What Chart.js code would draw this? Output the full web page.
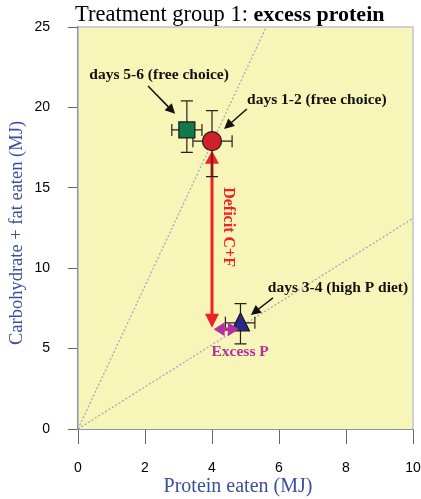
<!DOCTYPE html>
<html>
<head>
<meta charset="utf-8">
<script src="https://cdn.jsdelivr.net/npm/chart.js@4"></script>
<style>
  html, body { margin: 0; padding: 0; background: #ffffff; }
  #wrap { width: 421px; height: 499px; }
</style>
</head>
<body>
<div id="wrap"><canvas id="dietChart" width="421" height="499"></canvas></div>
<script>
// data
var groups = ['days 1-2 (free choice)', 'days 3-4 (high P diet)', 'days 5-6 (free choice)'];
var protein = [4.0, 4.85, 3.25];
var proteinLow = [3.43, 4.4, 2.8];
var proteinHigh = [4.6, 5.28, 3.7];
var carbFat = [17.9, 6.6, 18.6];
var carbFatLow = [15.7, 5.3, 17.2];
var carbFatHigh = [19.8, 7.8, 20.4];
var railSlopes = [1.31, 4.45];
var xTicks = [0, 2, 4, 6, 8, 10];
var yTicks = [0, 5, 10, 15, 20, 25];
var deficitArrow = [[4.0, 17.3], [4.0, 6.3]];
var excessArrow = [[4.05, 6.2], [4.8, 6.2]];

// label placement (data units) and styles
var labelSpots = [
    { text: groups[0], at: [7.13, 20.46], from: [5.04, 19.9], to: [4.36, 18.66] },
    { text: groups[1], at: [7.76, 8.77], from: [5.82, 8.15], to: [5.16, 7.09] },
    { text: groups[2], at: [2.42, 22.0], from: [2.09, 21.33], to: [2.9, 19.6] }
];
var markerStyle = [
    { shape: 'circle', fill: '#d0202c', size: 9.5 },
    { shape: 'triangle', fill: '#2a2a8c', size: 10 },
    { shape: 'rect', fill: '#13784a', size: 8 }
];

function arrowHead(ctx, x1, y1, x2, y2, len, wid) {
    var a = Math.atan2(y2 - y1, x2 - x1);
    ctx.beginPath();
    ctx.moveTo(x2, y2);
    ctx.lineTo(x2 - len * Math.cos(a) + wid * Math.sin(a), y2 - len * Math.sin(a) - wid * Math.cos(a));
    ctx.lineTo(x2 - len * Math.cos(a) - wid * Math.sin(a), y2 - len * Math.sin(a) + wid * Math.cos(a));
    ctx.closePath();
    ctx.fill();
}

var figurePlugin = {
    id: 'figure',
    beforeDraw: function(chart) {
        var ctx = chart.ctx, a = chart.chartArea;
        ctx.save();
        ctx.fillStyle = '#f8f5b8';
        ctx.fillRect(a.left, a.top, a.right - a.left, a.bottom - a.top);
        ctx.strokeStyle = '#c4c4cc';
        ctx.lineWidth = 1.5;
        ctx.beginPath();
        ctx.moveTo(a.left, a.top);
        ctx.lineTo(a.right, a.top);
        ctx.lineTo(a.right, a.bottom);
        ctx.stroke();
        ctx.restore();
    },
    afterDatasetsDraw: function(chart) {
        var ctx = chart.ctx, xs = chart.scales.x, ys = chart.scales.y;
        function px(v) { return xs.getPixelForValue(v); }
        function py(v) { return ys.getPixelForValue(v); }
        ctx.save();

        // deficit arrow
        var d0 = [px(deficitArrow[0][0]), py(deficitArrow[0][1])];
        var d1 = [px(deficitArrow[1][0]), py(deficitArrow[1][1])];
        ctx.strokeStyle = '#ee2222';
        ctx.fillStyle = '#ee2222';
        ctx.lineWidth = 3;
        ctx.beginPath();
        ctx.moveTo(d0[0], d0[1] + 10);
        ctx.lineTo(d1[0], d1[1] - 10);
        ctx.stroke();
        arrowHead(ctx, d1[0], d1[1] - 20, d0[0], d0[1], 13, 7);
        arrowHead(ctx, d0[0], d0[1] + 20, d1[0], d1[1], 14, 7);

        // error bars
        ctx.strokeStyle = '#222222';
        ctx.lineWidth = 1.2;
        for (var i = 0; i < protein.length; i++) {
            var cx = px(protein[i]), cy = py(carbFat[i]);
            var xl = px(proteinLow[i]), xh = px(proteinHigh[i]);
            var yl = py(carbFatLow[i]), yh = py(carbFatHigh[i]);
            ctx.beginPath();
            ctx.moveTo(xl, cy); ctx.lineTo(xh, cy);
            ctx.moveTo(xl, cy - 6); ctx.lineTo(xl, cy + 6);
            ctx.moveTo(xh, cy - 6); ctx.lineTo(xh, cy + 6);
            ctx.moveTo(cx, yl); ctx.lineTo(cx, yh);
            ctx.moveTo(cx - 6, yl); ctx.lineTo(cx + 6, yl);
            ctx.moveTo(cx - 6, yh); ctx.lineTo(cx + 6, yh);
            ctx.stroke();
        }

        // markers
        for (var j = 0; j < protein.length; j++) {
            var mx = px(protein[j]), my = py(carbFat[j]), m = markerStyle[j];
            ctx.fillStyle = m.fill;
            ctx.strokeStyle = '#1a1a1a';
            ctx.lineWidth = 1.2;
            ctx.beginPath();
            if (m.shape === 'circle') {
                ctx.arc(mx, my, m.size, 0, Math.PI * 2);
            } else if (m.shape === 'rect') {
                ctx.rect(mx - m.size, my - m.size, m.size * 2, m.size * 2);
            } else {
                ctx.moveTo(mx, my - m.size);
                ctx.lineTo(mx + m.size * 0.9, my + m.size * 0.8);
                ctx.lineTo(mx - m.size * 0.9, my + m.size * 0.8);
                ctx.closePath();
            }
            ctx.fill();
            ctx.stroke();
        }

        // excess arrow, over the triangle
        var e0 = [px(excessArrow[0][0]), py(excessArrow[0][1])];
        var e1 = [px(excessArrow[1][0]), py(excessArrow[1][1])];
        ctx.strokeStyle = '#b2319e';
        ctx.fillStyle = '#b2319e';
        ctx.lineWidth = 3.5;
        ctx.beginPath();
        ctx.moveTo(e0[0] + 8, e0[1]);
        ctx.lineTo(e1[0] - 8, e1[1]);
        ctx.stroke();
        arrowHead(ctx, e1[0], e1[1], e0[0], e0[1], 11, 7);
        arrowHead(ctx, e0[0], e0[1], e1[0], e1[1], 11, 7);

        // annotation labels with pointer arrows
        ctx.fillStyle = '#111111';
        ctx.strokeStyle = '#111111';
        ctx.font = 'bold 15.5px "Liberation Serif", "DejaVu Serif", serif';
        ctx.textAlign = 'center';
        ctx.textBaseline = 'middle';
        labelSpots.forEach(function(s) {
            ctx.fillText(s.text, px(s.at[0]), py(s.at[1]));
            var fx = px(s.from[0]), fy = py(s.from[1]), tx = px(s.to[0]), ty = py(s.to[1]);
            ctx.lineWidth = 1.5;
            ctx.beginPath();
            ctx.moveTo(fx, fy);
            ctx.lineTo(tx - (tx - fx) * 0.25, ty - (ty - fy) * 0.25);
            ctx.stroke();
            arrowHead(ctx, fx, fy, tx, ty, 10, 5);
        });

        // arrow captions
        ctx.fillStyle = '#b2319e';
        ctx.fillText('Excess P', px(4.84), py(4.8));
        ctx.save();
        ctx.translate(px(4.48), py(12.56));
        ctx.rotate(Math.PI / 2);
        ctx.fillStyle = '#ee2222';
        ctx.font = 'bold 16px "Liberation Serif", "DejaVu Serif", serif';
        ctx.fillText('Deficit C+F', 0, 0);
        ctx.restore();

        ctx.restore();
    },
    afterDraw: function(chart) {
        var ctx = chart.ctx;
        ctx.save();
        // title, mixed weights
        ctx.textBaseline = 'alphabetic';
        ctx.textAlign = 'left';
        ctx.fillStyle = '#000000';
        ctx.font = '22.5px "Liberation Serif", serif';
        var part1 = 'Treatment group 1: ';
        ctx.fillText(part1, 75, 21);
        var w = ctx.measureText(part1).width;
        ctx.font = 'bold 22px "Liberation Serif", serif';
        ctx.fillText('excess protein', 75 + w, 21);

        // axis titles
        ctx.fillStyle = '#3b4ea0';
        ctx.font = '20px "Liberation Serif", serif';
        ctx.textAlign = 'center';
        ctx.textBaseline = 'middle';
        ctx.fillText('Protein eaten (MJ)', 238, 487);
        ctx.font = '18.5px "Liberation Serif", serif';
        ctx.translate(17, 233);
        ctx.rotate(-Math.PI / 2);
        ctx.fillText('Carbohydrate + fat eaten (MJ)', 0, 0);
        ctx.restore();
    }
};

function railData(slope) {
    var xEnd = Math.min(10, 25 / slope);
    return [{ x: 0, y: 0 }, { x: xEnd, y: xEnd * slope }];
}

var ctx = document.getElementById('dietChart');

var chartInstance = new Chart(ctx, {
    type: 'scatter',
    data: {
        datasets: railSlopes.map(function(s) {
            return {
                data: railData(s),
                showLine: true,
                borderColor: '#9ea3c4',
                borderWidth: 1.2,
                borderDash: [2, 2],
                pointRadius: 0,
                fill: false
            };
        })
    },
    options: {
        responsive: false,
        animation: false,
        layout: { padding: { top: 27, right: 8, left: 0, bottom: 0 } },
        plugins: {
            legend: { display: false },
            tooltip: { enabled: false }
        },
        scales: {
            x: {
                type: 'linear',
                min: 0,
                max: 10,
                afterBuildTicks: function(scale) {
                    scale.ticks = xTicks.map(function(v) { return { value: v }; });
                },
                afterFit: function(scale) {
                    scale.height = 70;
                    scale.paddingLeft = 0;
                    scale.paddingRight = 0;
                },
                ticks: {
                    color: '#000000',
                    padding: 16,
                    maxRotation: 0,
                    font: { family: '"Liberation Sans", Arial, sans-serif', size: 14 }
                },
                grid: { drawOnChartArea: false, tickLength: 15, color: '#666666', lineWidth: 1 },
                border: { color: '#8a93b4', width: 1 }
            },
            y: {
                type: 'linear',
                min: 0,
                max: 25,
                afterBuildTicks: function(scale) {
                    scale.ticks = yTicks.map(function(v) { return { value: v }; });
                },
                afterFit: function(scale) {
                    scale.width = 78;
                    scale.paddingTop = 0;
                    scale.paddingBottom = 0;
                },
                ticks: {
                    color: '#000000',
                    padding: 18,
                    font: { family: '"Liberation Sans", Arial, sans-serif', size: 14 }
                },
                grid: { drawOnChartArea: false, tickLength: 10, color: '#666666', lineWidth: 1 },
                border: { color: '#8a93b4', width: 1.5 }
            }
        }
    },
    plugins: [figurePlugin]
});
</script>
</body>
</html>
